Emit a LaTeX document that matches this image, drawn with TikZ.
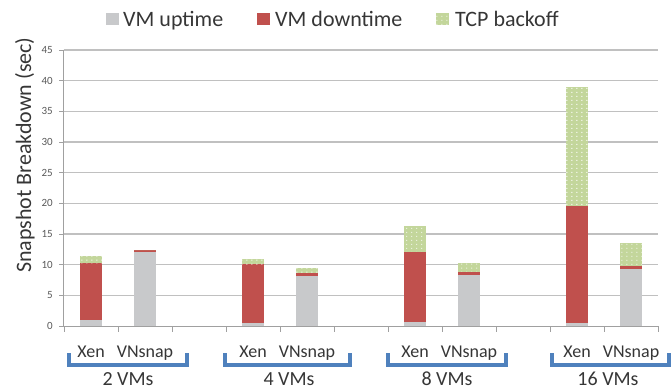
\documentclass[tikz,border=0pt]{standalone}
\usepackage{fontspec}
\setmainfont{Carlito}
\usetikzlibrary{patterns}
\definecolor{upc}{HTML}{C8C9CB}
\definecolor{downc}{HTML}{C0504D}
\definecolor{tcpc}{HTML}{C3D69B}
\definecolor{gridc}{HTML}{C0C0C0}
\definecolor{axisc}{HTML}{A0A0A0}
\definecolor{txtc}{HTML}{363636}
\definecolor{tickc}{HTML}{595959}
\definecolor{brk}{HTML}{4F81BD}
\pgfdeclarepatternformonly{tcpdots}{\pgfpointorigin}{\pgfpoint{5pt}{4pt}}{\pgfpoint{5pt}{4pt}}{\pgfpathrectangle{\pgfpoint{1.5pt}{1.5pt}}{\pgfpoint{1.1pt}{1.1pt}}\pgfusepath{fill}}
\newcommand\valy[1]{326-6.133*#1}
\newcommand\stackbar[4]{%
  \fill[upc] ({#1-11},326) rectangle ({#1+11},{\valy{#2}});
  \fill[downc] ({#1-11},{\valy{#2}}) rectangle ({#1+11},{\valy{#3}});
  \fill[tcpc] ({#1-11},{\valy{#3}}) rectangle ({#1+11},{\valy{#4}});
  \fill[pattern=tcpdots, pattern color=white] ({#1-11},{\valy{#3}}) rectangle ({#1+11},{\valy{#4}});
}
\begin{document}
\begin{tikzpicture}[x=1pt,y=-1pt,
  lgd/.style={inner sep=0pt, anchor=base west, text=txtc, font=\fontsize{22}{26}\selectfont},
  catlbl/.style={inner sep=0pt, anchor=base, text=txtc, font=\fontsize{18}{22}\selectfont},
  grplbl/.style={inner sep=0pt, anchor=base, text=txtc, font=\fontsize{20}{24}\selectfont},
  ticklbl/.style={inner sep=0pt, anchor=east, text=tickc, font=\fontsize{11}{13}\selectfont},
  bracket/.style={draw=brk, line width=4pt, line cap=butt, line join=miter}]
\useasboundingbox (0,0) rectangle (671,390);
% grid
\foreach \v in {5,10,...,45}
  \draw[gridc, line width=1.2pt] (63.5,{\valy{\v}}) -- (658,{\valy{\v}});
% axes
\draw[axisc, line width=0.9pt] (63.5,50) -- (63.5,326);
\foreach \v in {0,5,...,45}
  \draw[axisc, line width=0.9pt] (59,{\valy{\v}}) -- (63.5,{\valy{\v}});
\draw[axisc, line width=0.9pt] (63.5,326) -- (658,326);
\foreach \k in {0,...,11}
  \draw[axisc, line width=0.9pt] ({64+54*\k},326) -- ({64+54*\k},332);
% tick labels
\foreach \v in {0,5,...,45}
  \node[ticklbl] (t\v) at (53,{\valy{\v}}) {\v};
% bars
\stackbar{91}{1.0}{10.25}{11.35}
\stackbar{145}{12.0}{12.45}{12.45}
\stackbar{253}{0.45}{10.1}{10.9}
\stackbar{307}{8.15}{8.65}{9.5}
\stackbar{415}{0.7}{12.1}{16.3}
\stackbar{469}{8.3}{8.85}{10.3}
\stackbar{577}{0.45}{19.5}{39.0}
\stackbar{631}{9.3}{9.8}{13.6}
% legend
\fill[upc] (106,13) rectangle (119,25);
\node[lgd] (l1) at (123,27) {VM uptime};
\fill[downc] (257,13) rectangle (270,25);
\node[lgd] (l2) at (275,27) {VM downtime};
\fill[tcpc] (436,13) rectangle (449,25);
\fill[pattern=tcpdots, pattern color=white] (436,13) rectangle (449,25);
\node[lgd] (l3) at (455,27) {TCP backoff};
% axis title
\node[inner sep=0pt, anchor=base west, rotate=90, text=txtc, font=\fontsize{22}{26}\selectfont] (yt) at (31,273) {Snapshot Breakdown (sec)};
% category labels
\foreach \c/\n in {91/a,253/b,415/c,577/d}
  \node[catlbl] (x\n) at (\c,357) {Xen};
\foreach \c/\n in {145/a,307/b,469/c,631/d}
  \node[catlbl] (v\n) at (\c,357) {VNsnap};
% brackets
\draw[bracket] (69,353) -- (69,365) -- (187,365) -- (187,353);
\draw[bracket] (225,353) -- (225,365) -- (350,365) -- (350,353);
\draw[bracket] (388,353) -- (388,365) -- (506,365) -- (506,353);
\draw[bracket] (552,353) -- (552,365) -- (669,365) -- (669,353);
% group labels
\node[grplbl] (g2) at (128,385) {2 VMs};
\node[grplbl] (g4) at (289,385) {4 VMs};
\node[grplbl] (g8) at (447,385) {8 VMs};
\node[grplbl] (g16) at (608,385) {16 VMs};
\end{tikzpicture}
\end{document}
